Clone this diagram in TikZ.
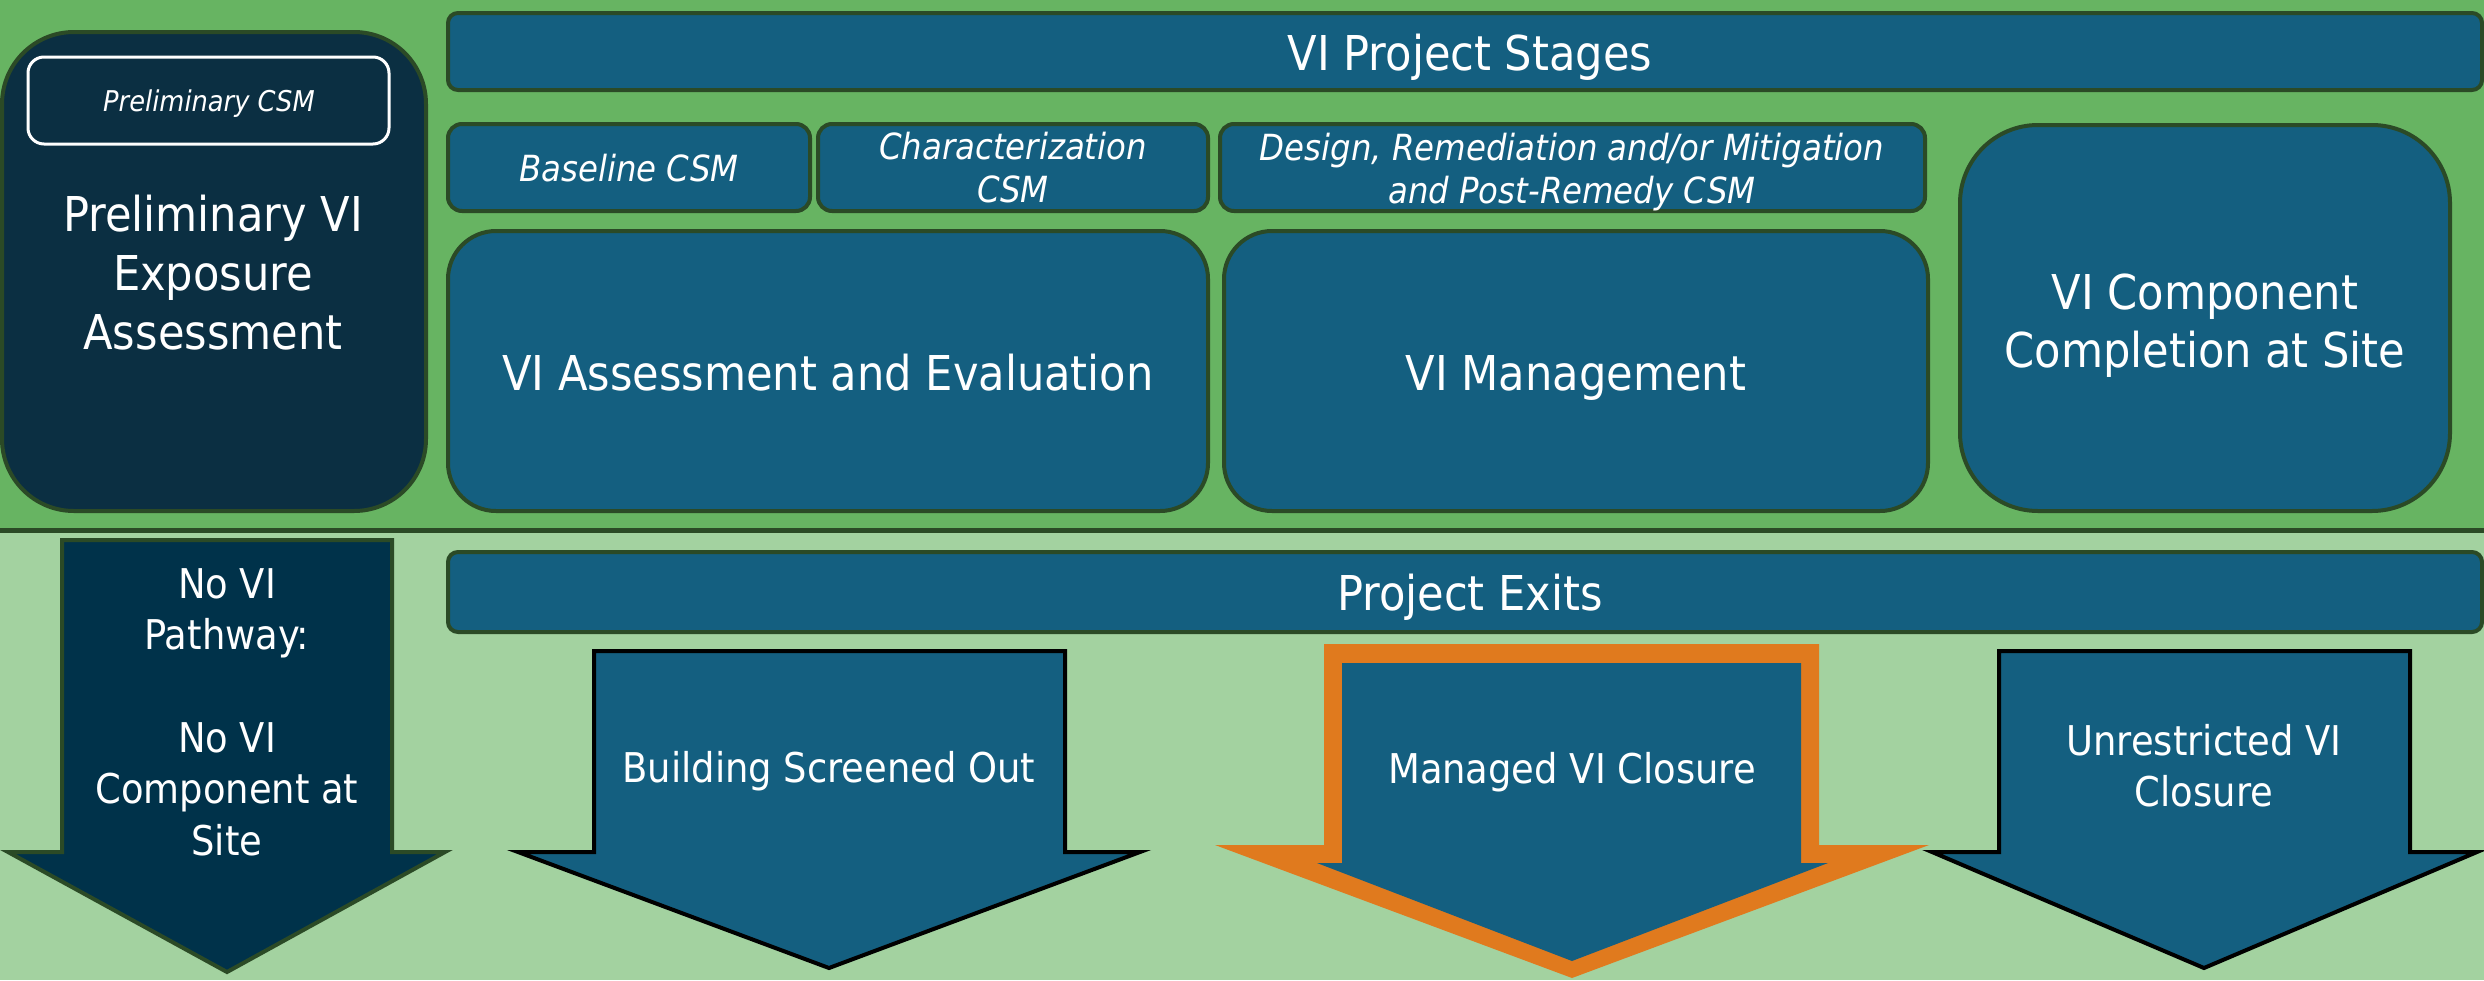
\documentclass[tikz,border=0pt]{standalone}
\usepackage{fontspec}
\setmainfont{DejaVu Sans Condensed}
\definecolor{topgreen}{HTML}{67B462}
\definecolor{botgreen}{HTML}{A3D2A0}
\definecolor{boxblue}{HTML}{145F80}
\definecolor{darkbox}{HTML}{0B2F42}
\definecolor{navy}{HTML}{00324A}
\definecolor{edgegreen}{HTML}{2B4A26}
\definecolor{exitorange}{HTML}{E07A1E}
\tikzset{
  box/.style={draw=edgegreen, line width=2pt, fill=boxblue, inner sep=0pt, outer sep=0pt},
  lbl/.style={text=white, align=center, inner sep=0pt, outer sep=0pt},
  big/.style={lbl, font=\fontsize{24pt}{29pt}\selectfont},
  mid/.style={lbl, font=\fontsize{20.5pt}{25.7pt}\selectfont},
  ital/.style={lbl, font=\fontsize{18pt}{21.5pt}\selectfont\itshape},
  exitarrow/.style={draw=black, line width=2pt, fill=boxblue, miter limit=20},
}
\begin{document}
\begin{tikzpicture}[x=0.5pt,y=-0.5pt]
\useasboundingbox (0,0) rectangle (2484,980);
% background bands
\fill[topgreen] (0,0) rectangle (2484,530);
\fill[botgreen] (0,530) rectangle (2484,980);
\draw[edgegreen, line width=2.5pt] (0,530) -- (2484,530);

% left preliminary box
\node[box, fill=darkbox, rounded corners=36pt, minimum width=212pt, minimum height=239.5pt] (prelim) at (214,271.5) {};
\node[draw=white, line width=1.5pt, rounded corners=8pt, minimum width=180.5pt, minimum height=43.5pt, inner sep=0pt] (prelimcsm) at (208.5,100.5) {};
\node[lbl, font=\fontsize{14.3pt}{17pt}\selectfont\itshape, anchor=base] (prelimcsmT) at (209,111) {Preliminary CSM};
\node[big, font=\fontsize{24pt}{29.5pt}\selectfont] (prelimT) at (213,273) {Preliminary VI\\Exposure\\Assessment};

% project stages
\node[box, rounded corners=5pt, minimum width=1017pt, minimum height=38.5pt] (stages) at (1465,51.5) {};
\node[big, anchor=base] (stagesT) at (1470,70) {VI Project Stages};

\node[box, rounded corners=7pt, minimum width=181pt, minimum height=43.5pt] (basecsm) at (629,167.5) {};
\node[ital, anchor=base] (basecsmT) at (629,181) {Baseline CSM};
\node[box, rounded corners=7pt, minimum width=195pt, minimum height=43.5pt] (charcsm) at (1013,167.5) {};
\node[ital] (charcsmT) at (1013,168) {Characterization\\CSM};
\node[box, rounded corners=7pt, minimum width=352.5pt, minimum height=43.5pt] (designcsm) at (1572.5,167.5) {};
\node[ital] (designcsmT) at (1572,172.5) {Design, Remediation and/or Mitigation\\and Post-Remedy CSM};

\node[box, rounded corners=24pt, minimum width=380pt, minimum height=140pt] (assess) at (828,371) {};
\node[big, anchor=base] (assessT) at (828,390) {VI Assessment and Evaluation};
\node[box, rounded corners=24pt, minimum width=352pt, minimum height=140pt] (manage) at (1576,371) {};
\node[big, anchor=base] (manageT) at (1576,390) {VI Management};
\node[box, rounded corners=39pt, minimum width=245pt, minimum height=193pt] (complete) at (2205,318) {};
\node[big] (completeT) at (2205,325.5) {VI Component\\Completion at Site};

% project exits
\node[box, rounded corners=5pt, minimum width=1017pt, minimum height=40pt] (exits) at (1465,592) {};
\node[big, anchor=base] (exitsT) at (1470,610) {Project Exits};

% no VI pathway arrow
\draw[draw=edgegreen, line width=2pt, fill=navy, miter limit=20]
  (62,540) -- (392,540) -- (392,852) -- (445,852) -- (227,972) -- (8,852) -- (62,852) -- cycle;
\node[mid] (novi) at (227,712) {No VI\\Pathway:\\ \\No VI\\Component at\\Site};

% building screened out
\draw[exitarrow] (594,651) -- (1065,651) -- (1065,852) -- (1140,852) -- (829,968) -- (518,852) -- (594,852) -- cycle;
\node[mid, anchor=base] (screened) at (829,782) {Building Screened Out};

% managed VI closure (orange outline)
\fill[exitorange] (1324,644) -- (1819,644) -- (1819,845) -- (1929,845) -- (1572,978) -- (1215,845) -- (1324,845) -- cycle;
\fill[boxblue] (1342,663) -- (1801,663) -- (1801,863) -- (1828,863) -- (1572,961) -- (1317,863) -- (1342,863) -- cycle;
\node[mid, anchor=base] (managed) at (1572,783) {Managed VI Closure};

% unrestricted VI closure
\draw[exitarrow] (1999,651) -- (2410,651) -- (2410,852) -- (2477,852) -- (2204,968) -- (1932,852) -- (1999,852) -- cycle;
\node[mid] (unrestricted) at (2204,765.5) {Unrestricted VI\\Closure};
\end{tikzpicture}
\end{document}
